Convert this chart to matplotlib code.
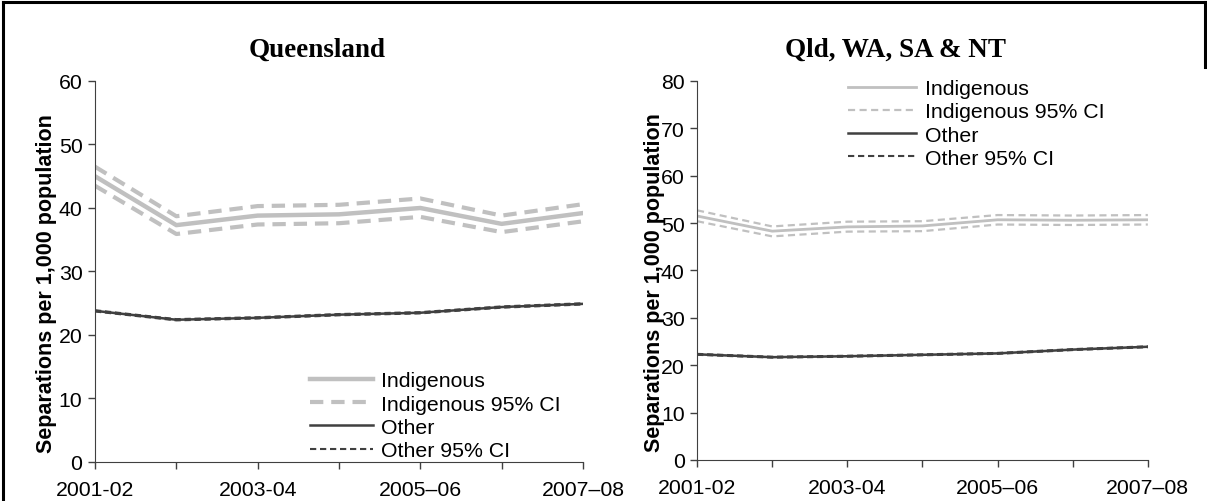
import matplotlib
matplotlib.use("Agg")
import matplotlib.pyplot as plt
from matplotlib.lines import Line2D

plt.rcParams['font.family'] = ['Liberation Sans', 'DejaVu Sans']

years = ['2001-02', '2002-03', '2003-04', '2004-05', '2005–06', '2006-07', '2007–08']
tick_labels = ['2001-02', '', '2003-04', '', '2005–06', '', '2007–08']

# Queensland
qld_ind = [45.0, 37.3, 38.8, 39.0, 40.0, 37.5, 39.2]
qld_ind_hi = [46.5, 38.7, 40.3, 40.5, 41.5, 38.8, 40.6]
qld_ind_lo = [43.5, 35.9, 37.4, 37.6, 38.6, 36.2, 37.9]
qld_oth = [23.8, 22.4, 22.7, 23.2, 23.5, 24.4, 24.9]
qld_oth_hi = [23.9, 22.5, 22.8, 23.3, 23.6, 24.5, 25.0]
qld_oth_lo = [23.7, 22.3, 22.6, 23.1, 23.4, 24.3, 24.8]

# Qld, WA, SA & NT
grp_ind = [51.5, 48.3, 49.2, 49.4, 50.7, 50.6, 50.7]
grp_ind_hi = [52.7, 49.3, 50.3, 50.4, 51.7, 51.6, 51.7]
grp_ind_lo = [50.4, 47.2, 48.2, 48.3, 49.7, 49.6, 49.7]
grp_oth = [22.3, 21.7, 21.9, 22.2, 22.5, 23.3, 23.9]
grp_oth_hi = [22.4, 21.8, 22.0, 22.3, 22.6, 23.4, 24.0]
grp_oth_lo = [22.2, 21.6, 21.8, 22.1, 22.4, 23.2, 23.8]

LIGHT = '#c0c0c0'
DARK = '#404040'
FS = 15.3

fig = plt.figure(figsize=(12.07, 5.02), dpi=100)
ax1 = fig.add_axes([0.0787, 0.0777, 0.4043, 0.759])
ax2 = fig.add_axes([0.5775, 0.0817, 0.3735, 0.755])


def draw_panel(ax, ind, ind_hi, ind_lo, oth, oth_hi, oth_lo, ymax, lw_ind, lw_ci, dash_ci):
    x = list(range(len(years)))
    ax.plot(x, ind, color=LIGHT, lw=lw_ind, label='Indigenous')
    ax.plot(x, ind_hi, color=LIGHT, lw=lw_ci, ls=(0, dash_ci), label='Indigenous 95% CI')
    ax.plot(x, ind_lo, color=LIGHT, lw=lw_ci, ls=(0, dash_ci))
    ax.plot(x, oth, color=DARK, lw=1.8, label='Other')
    ax.plot(x, oth_hi, color=DARK, lw=1.5, ls=(0, (3.0, 1.8)), label='Other 95% CI')
    ax.plot(x, oth_lo, color=DARK, lw=1.5, ls=(0, (3.0, 1.8)))
    ax.set_xlim(0, len(years) - 1)
    ax.set_ylim(0, ymax)
    ax.set_yticks(range(0, ymax + 1, 10))
    ax.set_xticks(x)
    ax.set_xticklabels(tick_labels)
    ax.tick_params(labelsize=FS, length=5, color='#404040', width=1)
    ax.tick_params(axis='x', pad=8)
    ax.tick_params(axis='y', pad=4)
    for s in ['top', 'right']:
        ax.spines[s].set_visible(False)
    for s in ['left', 'bottom']:
        ax.spines[s].set_color('#404040')
    ax.set_ylabel('Separations per 1,000 population', fontsize=15.5, fontweight='bold')


draw_panel(ax1, qld_ind, qld_ind_hi, qld_ind_lo, qld_oth, qld_oth_hi, qld_oth_lo,
           60, 3.2, 3.0, (3.2, 1.9))
draw_panel(ax2, grp_ind, grp_ind_hi, grp_ind_lo, grp_oth, grp_oth_hi, grp_oth_lo,
           80, 2.0, 1.6, (3.2, 2.0))
ax1.yaxis.set_label_coords(-0.078, 0.47)
ax2.yaxis.set_label_coords(-0.072, 0.47)

ax1.legend(loc='lower left', bbox_to_anchor=(0.44, 0.005), frameon=False, fontsize=FS,
           handlelength=3.0, handletextpad=0.35, labelspacing=0.2, borderaxespad=0,
           borderpad=0)
ax2.legend(loc='upper left', bbox_to_anchor=(0.335, 1.005), frameon=False, fontsize=FS,
           handlelength=3.2, handletextpad=0.4, labelspacing=0.2, borderaxespad=0,
           borderpad=0)

fig.text(0.2626, 0.887, 'Queensland', ha='center', va='baseline', fontsize=19.5,
         fontweight='bold', family=['Liberation Serif', 'DejaVu Serif'])
fig.text(0.742, 0.887, 'Qld, WA, SA & NT', ha='center', va='baseline', fontsize=19.5,
         fontweight='bold', family=['Liberation Serif', 'DejaVu Serif'])

# outer frame
fig.add_artist(Line2D([0.0025, 0.998], [0.994, 0.994], color='black', lw=2.2,
                      transform=fig.transFigure))
fig.add_artist(Line2D([0.0025, 0.0025], [0.0, 0.994], color='black', lw=2.2,
                      transform=fig.transFigure))
fig.add_artist(Line2D([0.998, 0.998], [0.864, 0.994], color='black', lw=2.2,
                      transform=fig.transFigure))

fig.savefig('out.png', dpi=100, facecolor='white')
